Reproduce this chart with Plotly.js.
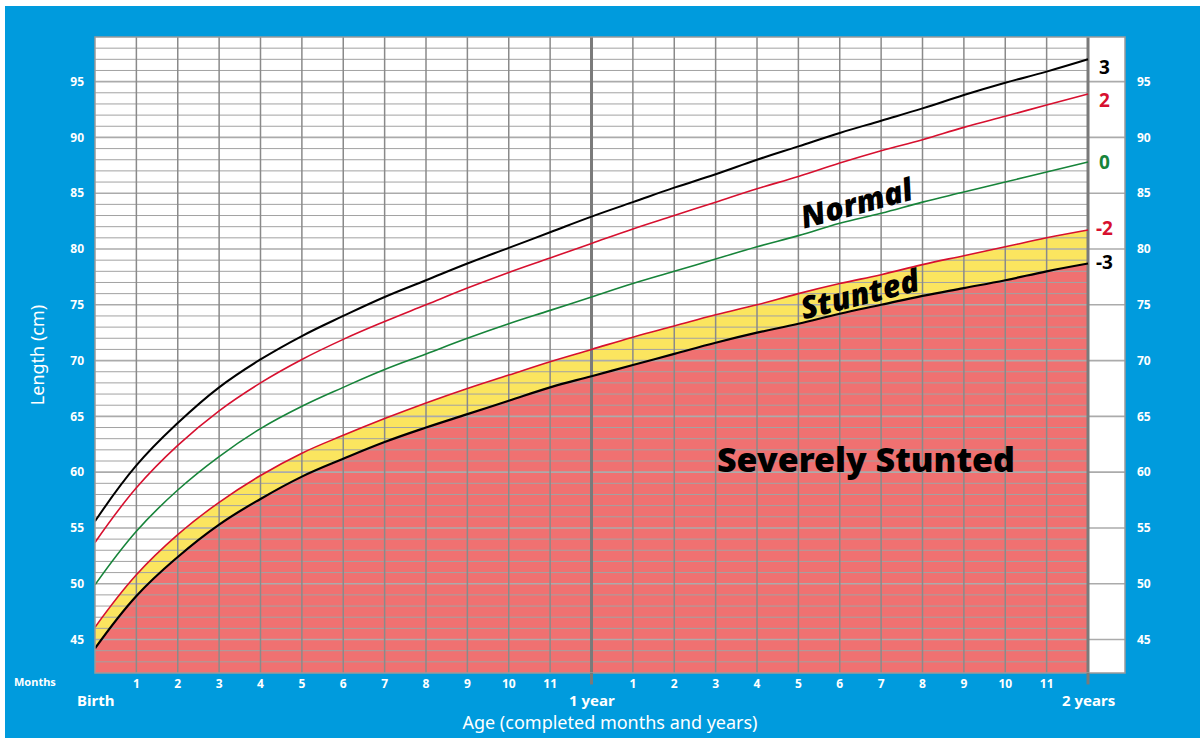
<!DOCTYPE html>
<html><head><meta charset="utf-8">
<script src="https://cdn.plot.ly/plotly-3.0.1.min.js"></script>
<style>
html,body{margin:0;padding:0;background:#fff;width:1200px;height:738px;overflow:hidden}
#chart{position:absolute;left:5px;top:6px;width:1195px;height:732px}
</style>
</head><body><div id="chart"></div>
<script>
// Age in completed months (0 = birth, 12 = 1 year, 24 = 2 years)
const months = [0,1,2,3,4,5,6,7,8,9,10,11,12,13,14,15,16,17,18,19,20,21,22,23,24];
// Length (cm) by z-score curve
const sdMinus3 = [44.2,48.9,52.4,55.3,57.6,59.6,61.2,62.7,64.0,65.2,66.4,67.6,68.6,69.6,70.6,71.6,72.5,73.3,74.2,75.0,75.8,76.5,77.2,78.0,78.7];
const sdMinus2 = [46.1,50.8,54.4,57.3,59.7,61.7,63.3,64.8,66.2,67.5,68.7,69.9,71.0,72.1,73.1,74.1,75.0,76.0,76.9,77.7,78.6,79.4,80.2,81.0,81.7];
const median   = [49.9,54.7,58.4,61.4,63.9,65.9,67.6,69.2,70.6,72.0,73.3,74.5,75.7,76.9,78.0,79.1,80.2,81.2,82.3,83.2,84.2,85.1,86.0,86.9,87.8];
const sdPlus2  = [53.7,58.6,62.4,65.5,68.0,70.1,71.9,73.5,75.0,76.5,77.9,79.2,80.5,81.8,83.0,84.2,85.4,86.5,87.7,88.8,89.8,90.9,91.9,92.9,93.9];
const sdPlus3  = [55.6,60.6,64.4,67.6,70.1,72.2,74.0,75.7,77.2,78.7,80.1,81.5,82.9,84.2,85.5,86.7,88.0,89.2,90.4,91.5,92.6,93.8,94.9,95.9,97.0];

const monthTickVals = [1,2,3,4,5,6,7,8,9,10,11,13,14,15,16,17,18,19,20,21,22,23];
const monthTickText = ['1','2','3','4','5','6','7','8','9','10','11','1','2','3','4','5','6','7','8','9','10','11'];
const lengthTicks = [45,50,55,60,65,70,75,80,85,90,95];
const yearMarks = [0,12,24];
const yearLabels = ['Birth','1 year','2 years'];
const curveLabels = ['3','2','0','-2','-3'];
const zoneLabels = ['Normal','Stunted','Severely Stunted'];

const X_MAX = 24.894, Y_MIN = 42, Y_MAX = 99;
const BLUE = '#009BDD', RED_FILL = '#F07171', YELLOW = '#FBE55F';
const RED_LINE = '#D7102F', GREEN = '#17843A', BLACK = '#000000';
const FONT = 'Noto Sans, Open Sans, sans-serif';

const traces = [];
// fills
traces.push({x: months, y: sdMinus3, mode:'lines', line:{width:0, shape:'spline', color:RED_FILL}, fill:'tozeroy', fillcolor:RED_FILL, hoverinfo:'skip', showlegend:false});
traces.push({x: months, y: sdMinus2, mode:'lines', line:{width:0, shape:'spline', color:YELLOW}, fill:'tonexty', fillcolor:YELLOW, hoverinfo:'skip', showlegend:false});

// grid lines drawn as traces so they sit above the fills
function hLines(vals, x0, x1){const xs=[],ys=[];vals.forEach(v=>{xs.push(x0,x1,null);ys.push(v,v,null);});return {x:xs,y:ys};}
function vLines(vals, y0, y1){const xs=[],ys=[];vals.forEach(v=>{xs.push(v,v,null);ys.push(y0,y1,null);});return {x:xs,y:ys};}
const minorY=[]; for(let v=Y_MIN+1; v<Y_MAX; v++){ if(v%5!==0) minorY.push(v); }
const gMinor = hLines(minorY, 0, 24);
traces.push({x:gMinor.x, y:gMinor.y, mode:'lines', line:{color:'#A2A2A2', width:1}, hoverinfo:'skip', showlegend:false});
const gMajor = hLines(lengthTicks, 0, X_MAX);
traces.push({x:gMajor.x, y:gMajor.y, mode:'lines', line:{color:'#ABABAB', width:1.6}, hoverinfo:'skip', showlegend:false});
const mVals=[]; for(let m=1;m<24;m++){ if(m!==12) mVals.push(m); }
const gMonth = vLines(mVals, Y_MIN, Y_MAX);
traces.push({x:gMonth.x, y:gMonth.y, mode:'lines', line:{color:'#8A8A8A', width:1.5}, hoverinfo:'skip', showlegend:false});
const gYear = vLines([12,24], Y_MIN, Y_MAX);
traces.push({x:gYear.x, y:gYear.y, mode:'lines', line:{color:'#7A7A7A', width:3}, hoverinfo:'skip', showlegend:false});

// curves
const curves = [
  {y: sdPlus3, color: BLACK, w:2},
  {y: sdPlus2, color: RED_LINE, w:1.6},
  {y: median, color: GREEN, w:1.6},
  {y: sdMinus2, color: RED_LINE, w:1.6},
  {y: sdMinus3, color: BLACK, w:2.2}
];
curves.forEach(c=>traces.push({x: months, y: c.y, mode:'lines', line:{color:c.color, width:c.w, shape:'spline', smoothing:1.2}, hoverinfo:'skip', showlegend:false}));
// right-hand axis carrier
traces.push({x:[null], y:[null], yaxis:'y2', mode:'lines', hoverinfo:'skip', showlegend:false});

const annotations = [];
const labelColors = [BLACK, RED_LINE, GREEN, RED_LINE, BLACK];
const labelShift = [-8, -6, 0, 2, 2];
const endVals = [sdPlus3[24], sdPlus2[24], median[24], sdMinus2[24], sdMinus3[24]];
curveLabels.forEach((t,i)=>annotations.push({x:24.4, y:endVals[i], yshift:labelShift[i], text:t, showarrow:false, xanchor:'center', yanchor:'middle', font:{family:FONT, size:19, color:labelColors[i], weight:'bold'}}));
yearMarks.forEach((m,i)=>annotations.push({x:m, xref:'x', y:0, yref:'paper', yshift:-27, text:yearLabels[i], showarrow:false, xanchor:'center', yanchor:'middle', font:{family:FONT, size:15, color:'#fff', weight:'bold'}}));
annotations.push({x:-60/1030, xref:'paper', xanchor:'center', y:0, yref:'paper', yshift:-8, yanchor:'middle', text:'Months', showarrow:false, font:{family:FONT, size:11, color:'#fff', weight:'bold'}});
annotations.push({x:18.42, y:84.2, text:zoneLabels[0], textangle:-15, showarrow:false, font:{family:FONT, size:31, color:'#000', weight:900, style:'italic'}});
annotations.push({x:18.5, y:76.1, text:zoneLabels[1], textangle:-14, showarrow:false, font:{family:FONT, size:31, color:'#000', weight:900, style:'italic'}});
annotations.push({x:18.63, y:61.2, text:zoneLabels[2], showarrow:false, font:{family:FONT, size:34, color:'#000', weight:900}});

const shapes = [
  {type:'rect', xref:'paper', yref:'paper', x0:0, x1:1, y0:0, y1:1, line:{color:'#9A9A9A', width:1.5}, layer:'above'},
  {type:'line', xref:'x', yref:'paper', x0:12, x1:12, y0:0, y1:-0.018, line:{color:'#7A7A7A', width:3}},
  {type:'line', xref:'x', yref:'paper', x0:24, x1:24, y0:0, y1:-0.018, line:{color:'#7A7A7A', width:3}}
];

const layout = {
  width:1195, height:732,
  margin:{l:90, r:75, t:31, b:65},
  paper_bgcolor:BLUE, plot_bgcolor:'#ffffff',
  hovermode:false, showlegend:false,
  xaxis:{range:[0, X_MAX], showgrid:false, zeroline:false, showline:false, ticks:'',
    tickmode:'array', tickvals:monthTickVals, ticktext:monthTickText,
    tickfont:{family:FONT, size:12, color:'#fff', weight:'bold'}, ticklabelstandoff:2,
    title:{text:'Age (completed months and years)', font:{family:FONT, size:18, color:'#fff'}, standoff:25}},
  yaxis:{range:[Y_MIN, Y_MAX], showgrid:false, zeroline:false, showline:false, ticks:'',
    tickmode:'array', tickvals:lengthTicks,
    tickfont:{family:FONT, size:12, color:'#fff', weight:'bold'}, ticklabelstandoff:10,
    title:{text:'Length (cm)', font:{family:FONT, size:18, color:'#fff'}, standoff:20}},
  yaxis2:{range:[Y_MIN, Y_MAX], overlaying:'y', side:'right', showgrid:false, zeroline:false, showline:false, ticks:'',
    tickmode:'array', tickvals:lengthTicks,
    tickfont:{family:FONT, size:12, color:'#fff', weight:'bold'}, ticklabelstandoff:11},
  annotations, shapes
};
Plotly.newPlot('chart', traces, layout, {displayModeBar:false, staticPlot:true});
</script>
</body></html>
